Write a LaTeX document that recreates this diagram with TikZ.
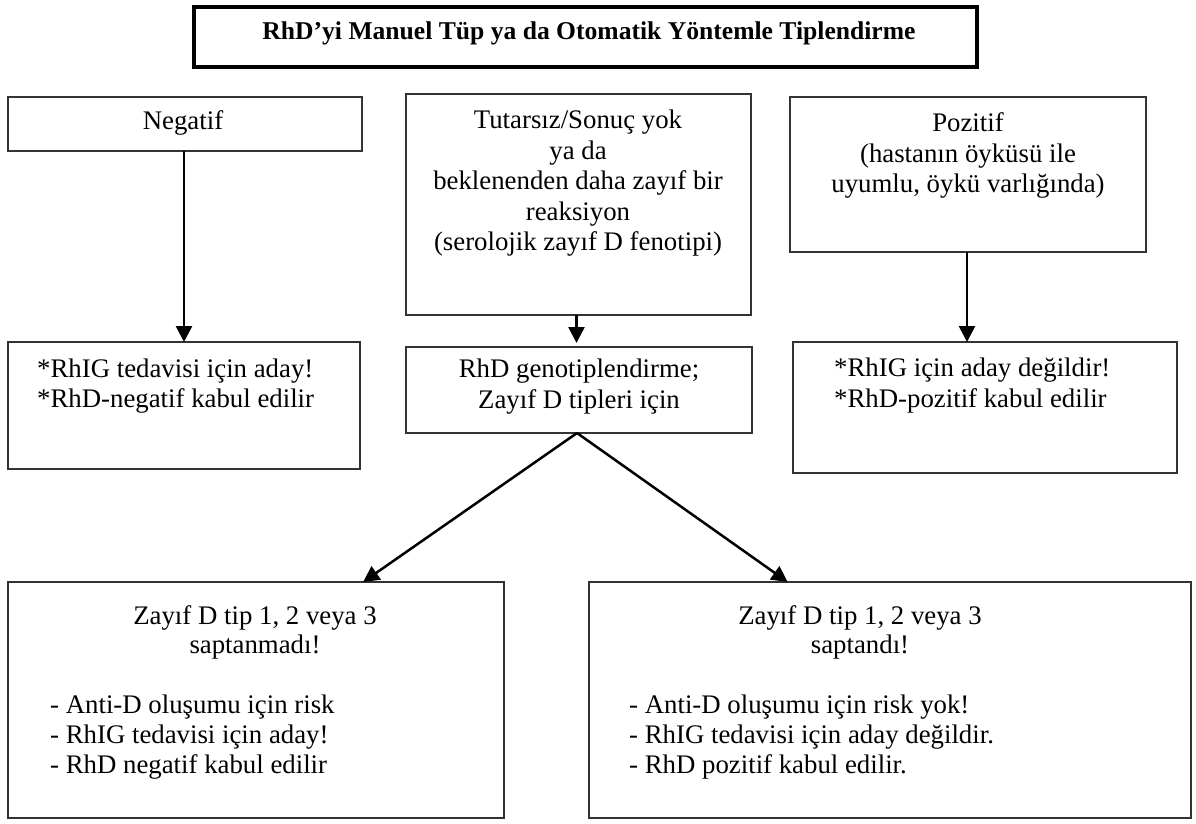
\documentclass[tikz,border=0pt]{standalone}
\usepackage{fontspec}
\setmainfont{Liberation Serif}
\usetikzlibrary{arrows.meta,calc}
\begin{document}
\begin{tikzpicture}[x=1pt,y=-1pt,
  box/.style={draw=black!80, line width=2pt, inner sep=0pt, outer sep=0pt},
  titlebox/.style={draw=black, line width=4pt, inner sep=0pt, outer sep=0pt},
  txt/.style={inner sep=0pt, anchor=base, font=\fontsize{26.8}{30}\selectfont},
  ltxt/.style={txt, anchor=base west},
  ttxt/.style={inner sep=0pt, anchor=base, font=\fontsize{25.6}{30}\selectfont\bfseries},
  arr/.style={line width=2.5pt, draw=black, -{Triangle[length=16pt,width=16pt]}}]
\useasboundingbox[fill=white] (0,0) rectangle (1196,823);

% boxes
\node[titlebox, minimum width=783pt, minimum height=60pt] (title) at (585.5,37) {};
\node[box, minimum width=354pt, minimum height=54pt] (neg) at (185,124) {};
\node[box, minimum width=345pt, minimum height=221pt] (mid) at (578.5,204.5) {};
\node[box, minimum width=356pt, minimum height=155pt] (pos) at (968,174.5) {};
\node[box, minimum width=352pt, minimum height=127pt] (negres) at (184,405.5) {};
\node[box, minimum width=346pt, minimum height=86pt] (geno) at (579,390) {};
\node[box, minimum width=384pt, minimum height=131pt] (posres) at (985,407.5) {};
\node[box, minimum width=496pt, minimum height=236pt] (bl) at (256,700) {};
\node[box, minimum width=602pt, minimum height=236pt] (br) at (890,700) {};

% texts
\node[ttxt] (t0) at (589,39) {RhD’yi Manuel Tüp ya da Otomatik Yöntemle Tiplendirme};

\node[txt] (n1) at (183,129) {Negatif};

\node[txt] (m1) at (578,128) {Tutarsız/Sonuç yok};
\node[txt] (m2) at (578,159) {ya da};
\node[txt] (m3) at (578,189) {beklenenden daha zayıf bir};
\node[txt] (m4) at (578,220) {reaksiyon};
\node[txt] (m5) at (578,250) {(serolojik zayıf D fenotipi)};

\node[txt] (p1) at (968,131) {Pozitif};
\node[txt] (p2) at (968,162) {(hastanın öyküsü ile};
\node[txt] (p3) at (968,192) {uyumlu, öykü varlığında)};

\node[ltxt] (nr1) at (37,377) {*RhIG tedavisi için aday!};
\node[ltxt] (nr2) at (37,407) {*RhD-negatif kabul edilir};

\node[txt] (g1) at (579,377) {RhD genotiplendirme;};
\node[txt] (g2) at (579,408) {Zayıf D tipleri için};

\node[ltxt] (pr1) at (834,376) {*RhIG için aday değildir!};
\node[ltxt] (pr2) at (834,407) {*RhD-pozitif kabul edilir};

\node[txt] (bl1) at (255,624) {Zayıf D tip 1, 2 veya 3};
\node[txt] (bl2) at (255,653) {saptanmadı!};
\node[ltxt] (bl3) at (50,713) {- Anti-D oluşumu için risk};
\node[ltxt] (bl4) at (50,743) {- RhIG tedavisi için aday!};
\node[ltxt] (bl5) at (50,773) {- RhD negatif kabul edilir};

\node[txt] (br1) at (860,624) {Zayıf D tip 1, 2 veya 3};
\node[txt] (br2) at (860,653) {saptandı!};
\node[ltxt] (br3) at (629,713) {- Anti-D oluşumu için risk yok!};
\node[ltxt] (br4) at (629,743) {- RhIG tedavisi için aday değildir.};
\node[ltxt] (br5) at (629,773) {- RhD pozitif kabul edilir.};

% connectors
\draw[arr] ([xshift=-1pt]neg.south) -- ([xshift=-1pt]neg.south |- negres.north);
\draw[arr] ([xshift=-2pt]mid.south) -- ([xshift=-2pt,yshift=4pt]mid.south |- geno.north);
\draw[arr] ([xshift=-1pt]pos.south) -- ([xshift=-1pt]pos.south |- posres.north);
\draw[arr] ([xshift=-2pt]geno.south) -- ($(bl.north west)!0.716!(bl.north east)$);
\draw[arr] ([xshift=-2pt]geno.south) -- ($(br.north west)!0.33!(br.north east)$);
\end{tikzpicture}
\end{document}
